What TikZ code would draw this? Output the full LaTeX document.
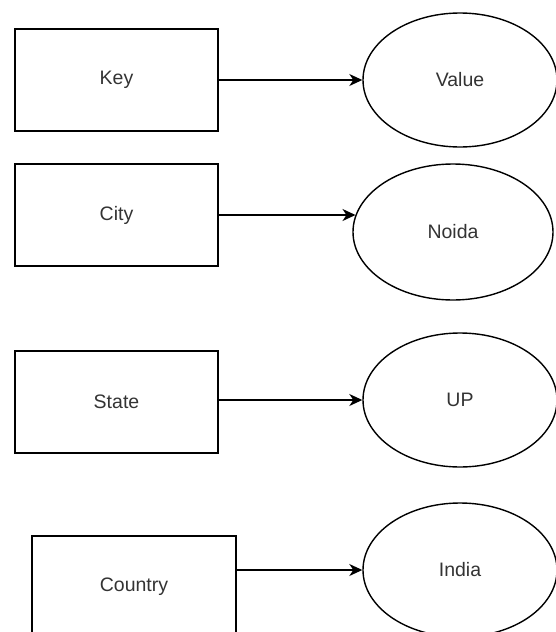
\documentclass[tikz,border=0pt]{standalone}
\usepackage{fontspec}
\setmainfont{Liberation Sans}
\usetikzlibrary{arrows.meta,shapes.geometric}
\definecolor{txt}{HTML}{333333}
\tikzset{
  keybox/.style={draw=black, line width=1.4pt, rectangle, minimum width=203pt, minimum height=102pt,
    font=\fontsize{19.5}{22}\selectfont, text=txt, inner sep=0pt},
  valnode/.style={draw=black, line width=1.4pt, ellipse, minimum width=194pt, minimum height=134pt,
    font=\fontsize{19.5}{22}\selectfont, text=txt, inner sep=0pt},
  link/.style={line width=1.5pt, -{Stealth[length=13pt,width=12pt,inset=4pt]}}
}
\begin{document}
\begin{tikzpicture}[x=1pt,y=-1pt]
  \useasboundingbox (0,0) rectangle (556,632);
  % key boxes
  \node[keybox] (k1) at (116.5,80) {Key};
  \node[keybox] (k2) at (116.5,215) {City};
  \node[keybox] (k3) at (116.5,402) {State};
  \node[keybox, minimum width=204pt] (k4) at (134,587) {Country};
  % value ellipses
  \node[valnode] (v1) at (460,80) {Value};
  \node[valnode, minimum width=200pt, minimum height=136pt] (v2) at (453,232) {Noida};
  \node[valnode] (v3) at (460,400) {UP};
  \node[valnode] (v4) at (460,570) {India};
  % connectors
  \draw[link] (k1.east) -- (v1.west);
  \draw[link] (k2.east) -- (k2.east -| v2.170);
  \draw[link] (k3.east |- v3.west) -- (v3.west);
  \draw[link] (k4.east |- v4.west) -- (v4.west);
\end{tikzpicture}
\end{document}
